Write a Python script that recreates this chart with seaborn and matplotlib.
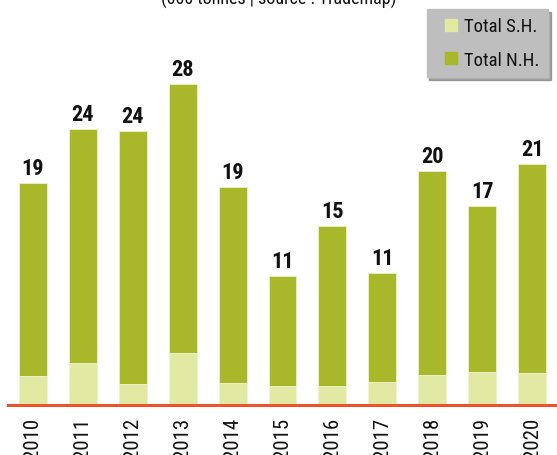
import numpy as np
import pandas as pd
import matplotlib
matplotlib.use('Agg')
import matplotlib.pyplot as plt
from matplotlib.lines import Line2D
import seaborn as sns

years = ['2010', '2011', '2012', '2013', '2014', '2015', '2016', '2017', '2018', '2019', '2020']
total_sh = [2.44, 3.60, 1.77, 4.43, 1.89, 1.63, 1.63, 1.97, 2.58, 2.79, 2.70]
total_nh = [16.74, 20.25, 21.91, 23.32, 16.91, 9.52, 13.80, 9.42, 17.61, 14.40, 18.10]

nh_color = '#A8B82A'
sh_color = '#E2E9A3'

sns.set_style('white')
plt.rcParams['font.family'] = ['Roboto Condensed', 'Liberation Sans Narrow', 'DejaVu Sans']
plt.rcParams['font.stretch'] = 'condensed'
plt.rcParams['text.color'] = '#111111'

df = pd.DataFrame({'year': years, 'sh': total_sh, 'nh': total_nh})
df['total'] = df['sh'] + df['nh']

fig = plt.figure(figsize=(5.57, 4.56), dpi=100)
ax = fig.add_axes([8 / 557, 1 - 405.5 / 456, 549 / 557, 405.5 / 456])

sns.barplot(data=df, x='year', y='total', color=nh_color, saturation=1,
            width=0.56, edgecolor='#EEF2C8', linewidth=0.6, ax=ax)
sns.barplot(data=df, x='year', y='sh', color=sh_color, saturation=1,
            width=0.56, edgecolor='#F2F5D5', linewidth=0.6, ax=ax)

for i, t in enumerate(df['total']):
    ax.annotate(f'{round(t):d}', (i, t), xytext=(0, 6.5), textcoords='offset points',
                ha='center', va='baseline', fontsize=16, fontweight='bold', color='#111111')

ax.set_xlim(-0.5, 10.5)
ax.set_ylim(0, 405.5 / 11.55)
ax.set_xlabel('')
ax.set_ylabel('')
ax.set_yticks([])
for s in ['top', 'right', 'left']:
    ax.spines[s].set_visible(False)
ax.spines['bottom'].set_color('#E8542C')
ax.spines['bottom'].set_linewidth(2.2)
ax.tick_params(axis='x', length=0, pad=9, labelsize=15, labelrotation=90, colors='#111111')

handles = [Line2D([], [], ls='none', marker='s', markersize=8.6, color=sh_color),
           Line2D([], [], ls='none', marker='s', markersize=8.6, color=nh_color)]
leg = ax.legend(handles, ['Total S.H.', 'Total N.H.'],
                loc='upper right', bbox_to_anchor=(540 / 549, 1 - 10 / 405.5),
                fontsize=13.5, frameon=True, fancybox=False, shadow={'color': '#555555', 'alpha': 0.5},
                facecolor='#BEBEBE', edgecolor='#BEBEBE', framealpha=1,
                handlelength=1.7, handletextpad=-0.14,
                borderpad=0.45, labelspacing=0.83, borderaxespad=0)

fig.text(279 / 557, 1 - 4.5 / 456, '(000 tonnes | source : Trademap)',
         ha='center', va='baseline', fontsize=13, color='#111111')

fig.savefig('out.png', dpi=100)
